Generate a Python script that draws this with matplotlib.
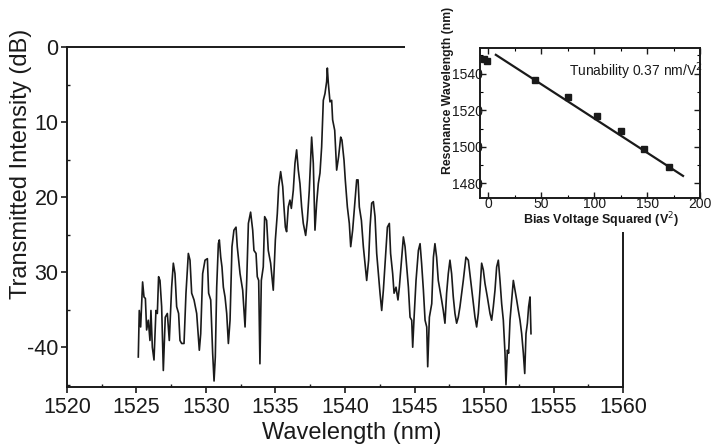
import matplotlib
matplotlib.use("Agg")
import matplotlib.pyplot as plt
from matplotlib.patches import Rectangle
from matplotlib.ticker import MultipleLocator, FixedLocator

plt.rcParams['font.family'] = ['Liberation Sans', 'DejaVu Sans']

# ---- main spectrum (wavelength nm, transmitted intensity dB) ----
wavelength = [
    1525.13, 1525.20, 1525.30, 1525.44, 1525.54, 1525.64, 1525.73, 1525.85, 1525.97, 1526.04,
    1526.14, 1526.26, 1526.40, 1526.50, 1526.59, 1526.69, 1526.81, 1526.93, 1527.07, 1527.22,
    1527.36, 1527.53, 1527.65, 1527.77, 1527.89, 1528.03, 1528.13, 1528.25, 1528.42, 1528.56,
    1528.73, 1528.85, 1528.97, 1529.14, 1529.33, 1529.52, 1529.62, 1529.76, 1529.93, 1530.10,
    1530.19, 1530.34, 1530.48, 1530.58, 1530.67, 1530.77, 1530.89, 1530.96, 1531.06, 1531.15,
    1531.25, 1531.37, 1531.49, 1531.61, 1531.73, 1531.87, 1532.01, 1532.16, 1532.25, 1532.45,
    1532.64, 1532.81, 1532.93, 1533.05, 1533.21, 1533.36, 1533.45, 1533.60, 1533.69, 1533.79,
    1533.88, 1533.98, 1534.12, 1534.22, 1534.36, 1534.48, 1534.65, 1534.84, 1534.99, 1535.13,
    1535.23, 1535.37, 1535.52, 1535.61, 1535.71, 1535.80, 1535.92, 1536.04, 1536.14, 1536.28,
    1536.40, 1536.52, 1536.64, 1536.76, 1536.88, 1537.00, 1537.17, 1537.29, 1537.43, 1537.60,
    1537.72, 1537.84, 1537.96, 1538.08, 1538.20, 1538.32, 1538.44, 1538.56, 1538.68, 1538.73,
    1538.80, 1538.92, 1539.04, 1539.11, 1539.26, 1539.40, 1539.54, 1539.69, 1539.78, 1539.93,
    1540.02, 1540.17, 1540.31, 1540.41, 1540.55, 1540.72, 1540.84, 1540.94, 1541.03, 1541.18,
    1541.32, 1541.46, 1541.56, 1541.70, 1541.80, 1541.92, 1542.04, 1542.16, 1542.28, 1542.40,
    1542.52, 1542.64, 1542.76, 1542.90, 1543.05, 1543.19, 1543.28, 1543.43, 1543.53, 1543.67,
    1543.81, 1543.91, 1544.20, 1544.32, 1544.44, 1544.56, 1544.68, 1544.80, 1544.87, 1544.96,
    1545.11, 1545.28, 1545.40, 1545.51, 1545.64, 1545.76, 1545.88, 1545.95, 1546.07, 1546.24,
    1546.36, 1546.47, 1546.59, 1546.71, 1546.83, 1546.95, 1547.07, 1547.19, 1547.31, 1547.43,
    1547.55, 1547.67, 1547.79, 1547.91, 1548.03, 1548.15, 1548.27, 1548.51, 1548.70, 1548.87,
    1549.04, 1549.18, 1549.35, 1549.47, 1549.59, 1549.71, 1549.83, 1549.95, 1550.07, 1550.24,
    1550.43, 1550.55, 1550.67, 1550.79, 1550.91, 1551.03, 1551.15, 1551.27, 1551.39, 1551.51,
    1551.58, 1551.68, 1551.77, 1551.87, 1551.99, 1552.11, 1552.23, 1552.35, 1552.47, 1552.59,
    1552.71, 1552.83, 1552.93, 1553.02, 1553.12, 1553.21, 1553.31, 1553.38,
]
intensity = [
    -41.3, -35.1, -37.3, -31.3, -33.3, -33.5, -37.7, -36.4, -39.1, -35.1,
    -40.0, -41.7, -35.1, -35.5, -30.6, -31.1, -34.6, -43.1, -36.0, -35.5,
    -39.1, -32.0, -28.8, -30.2, -34.6, -35.5, -39.1, -39.5, -39.5, -32.8,
    -27.5, -28.4, -32.8, -33.7, -35.5, -40.4, -38.2, -30.2, -28.4, -28.2,
    -32.8, -33.7, -40.8, -44.5, -41.3, -32.0, -26.2, -25.7, -28.0, -29.3,
    -32.0, -33.3, -35.5, -39.5, -36.4, -26.6, -24.4, -24.0, -26.6, -30.2,
    -32.4, -37.3, -31.1, -23.5, -22.0, -24.4, -27.1, -27.5, -30.6, -31.1,
    -42.2, -31.1, -29.3, -22.6, -23.1, -27.1, -28.8, -32.4, -25.7, -22.2,
    -18.6, -16.6, -18.6, -21.3, -24.0, -24.6, -21.3, -20.4, -21.5, -19.1,
    -15.5, -13.7, -16.4, -18.2, -21.3, -23.5, -25.1, -23.1, -19.1, -12.0,
    -15.5, -24.4, -20.8, -18.2, -16.8, -13.3, -7.1, -6.2, -4.6, -2.8,
    -4.8, -7.3, -7.1, -9.7, -11.1, -16.4, -14.6, -12.0, -12.4, -15.1,
    -17.7, -21.3, -23.5, -26.6, -24.4, -20.4, -17.7, -17.7, -21.3, -23.1,
    -26.6, -29.3, -31.1, -28.4, -24.0, -20.8, -20.6, -22.6, -27.5, -30.2,
    -32.8, -35.1, -32.4, -28.4, -24.0, -23.5, -27.5, -30.2, -32.8, -32.0,
    -33.7, -32.0, -25.3, -26.6, -29.3, -32.0, -36.0, -36.4, -40.0, -36.4,
    -31.1, -27.1, -26.2, -28.8, -32.4, -36.4, -37.3, -42.6, -36.0, -34.2,
    -28.0, -26.2, -28.0, -31.1, -32.4, -33.7, -35.1, -36.8, -32.8, -30.2,
    -28.4, -30.2, -33.3, -35.5, -36.8, -36.0, -34.6, -31.1, -28.0, -28.4,
    -31.1, -33.3, -36.0, -37.3, -35.5, -32.4, -28.8, -29.7, -31.5, -33.3,
    -35.5, -36.4, -34.6, -32.4, -29.3, -28.4, -31.1, -34.2, -36.4, -40.8,
    -45.0, -40.4, -40.8, -36.4, -33.7, -31.1, -32.4, -33.7, -35.1, -36.4,
    -38.2, -40.8, -43.5, -38.2, -36.8, -34.6, -33.3, -38.2,
]

main_xticks = [1520, 1525, 1530, 1535, 1540, 1545, 1550, 1555, 1560]
main_yticks = [0, -10, -20, -30, -40]
main_ytick_labels = ["0", "10", "20", "30", "-40"]

# ---- inset: resonance wavelength vs bias voltage squared ----
bias_v2 = [-4, -1, 44, 75, 103, 125, 147, 171]
resonance = [1548, 1547, 1536.5, 1527, 1517, 1508.5, 1499, 1489]
fit_x = [7, 184]
fit_y = [1550.3, 1484.1]
inset_xticks = [0, 50, 100, 150, 200]
inset_yticks = [1480, 1500, 1520, 1540]

ink = '#1a1a1a'

fig = plt.figure(figsize=(7.21, 4.45), dpi=100)
ax = fig.add_axes([0.0929, 0.1303, 0.7712, 0.764])
ax.plot(wavelength, intensity, color=ink, lw=1.2)
ax.set_xlim(1520, 1560)
ax.set_ylim(-45.3, 0)
ax.xaxis.set_major_locator(FixedLocator(main_xticks))
ax.xaxis.set_minor_locator(MultipleLocator(2.5))
ax.yaxis.set_major_locator(FixedLocator(main_yticks))
ax.set_yticklabels(main_ytick_labels)
ax.yaxis.set_minor_locator(MultipleLocator(5))
ax.tick_params(axis='both', which='major', direction='out', length=4, width=1.2,
               labelsize=15.5, colors=ink, pad=2)
ax.tick_params(axis='x', which='major', pad=3.5)
ax.tick_params(axis='both', which='minor', direction='in', length=2.5, width=1.0, colors=ink)
for s in ax.spines.values():
    s.set_linewidth(1.4)
    s.set_color(ink)
ax.set_xlabel("Wavelength (nm)", fontsize=17, color=ink)
ax.set_ylabel("Transmitted Intensity (dB)", fontsize=17, color=ink)
ax.xaxis.set_label_coords(0.513, -0.102)
ax.yaxis.set_label_coords(-0.063, 0.655)

# white cover behind the inset
fig.patches.append(Rectangle((0.562, 0.479), 0.438, 0.521, transform=fig.transFigure,
                             facecolor='white', edgecolor='none', zorder=1))

ins = fig.add_axes([0.6657, 0.555, 0.3051, 0.337])
ins.set_zorder(3)
ins.plot(fit_x, fit_y, color=ink, lw=1.6)
ins.plot(bias_v2, resonance, 's', color=ink, ms=4.5)
ins.set_xlim(-8, 200)
ins.set_ylim(1472, 1554)
ins.xaxis.set_major_locator(FixedLocator(inset_xticks))
ins.yaxis.set_major_locator(FixedLocator(inset_yticks))
ins.xaxis.set_minor_locator(MultipleLocator(25))
ins.yaxis.set_minor_locator(MultipleLocator(10))
ins.tick_params(axis='both', which='major', direction='in', length=4, width=1.0,
                labelsize=10, top=True, right=True, colors=ink)
ins.tick_params(axis='both', which='minor', direction='in', length=2, width=0.8,
                top=True, right=True)
ins.tick_params(axis='y', which='major', pad=-2)
ins.tick_params(axis='x', which='major', pad=-0.5)
for s in ins.spines.values():
    s.set_linewidth(1.4)
    s.set_color(ink)
ins.text(76, 1541.6, "Tunability 0.37 nm/V$^2$", fontsize=10, ha='left', va='center', color=ink)
ins.set_xlabel("Bias Voltage Squared (V$^2$)", fontsize=9, fontweight='bold', color=ink)
ins.set_ylabel("Resonance Wavelength (nm)", fontsize=8.8, fontweight='bold', color=ink)
ins.xaxis.set_label_coords(0.55, -0.085)
ins.yaxis.set_label_coords(-0.12, 0.72)

fig.savefig("out.png", dpi=100)
